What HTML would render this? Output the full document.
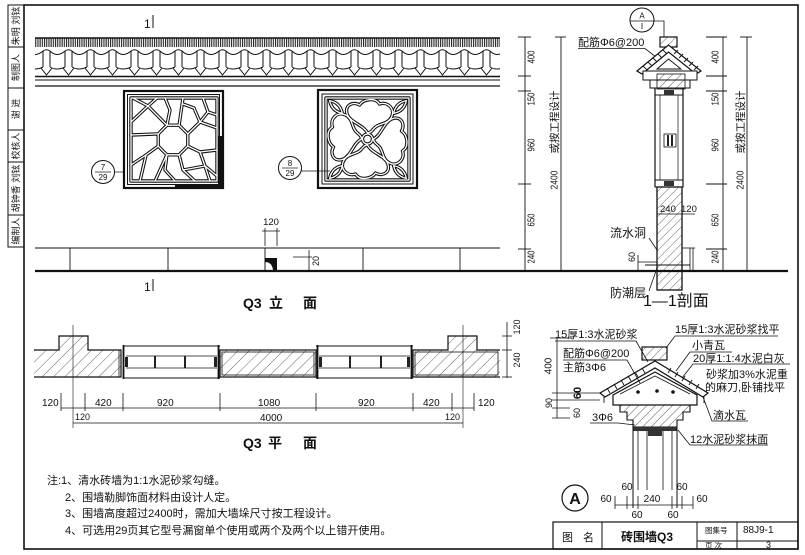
<!DOCTYPE html>
<html><head><meta charset="utf-8">
<style>
html,body{margin:0;padding:0;background:#fff;}
svg{display:block;}
text{font-family:"Liberation Sans","Noto Sans CJK SC",sans-serif;fill:#111;}
</style></head><body>
<svg width="805" height="555" viewBox="0 0 805 555" xmlns="http://www.w3.org/2000/svg" xmlns:xlink="http://www.w3.org/1999/xlink">
<defs>
<pattern id="h" patternUnits="userSpaceOnUse" width="6" height="6" patternTransform="rotate(45)">
<line x1="0" y1="0" x2="0" y2="6" stroke="#222" stroke-width="0.7"/>
</pattern>
<pattern id="hp" patternUnits="userSpaceOnUse" width="8" height="8" patternTransform="rotate(45)">
<line x1="0" y1="0" x2="0" y2="8" stroke="#222" stroke-width="0.7"/>
</pattern>
<pattern id="vs" patternUnits="userSpaceOnUse" width="2.2" height="10">
<rect x="0" y="0" width="1.1" height="10" fill="#222"/>
</pattern>
<pattern id="tl" patternUnits="userSpaceOnUse" x="35" y="47" width="22" height="30">
<g fill="none" stroke="#111" stroke-width="1">
<path d="M8 4 Q11.5 1.5 15 4"/>
<line x1="8" y1="4" x2="8" y2="20"/>
<line x1="15" y1="4" x2="15" y2="20"/>
<path d="M15 4 Q22 11 29 4"/>
<path d="M-7 4 Q0 11 8 4"/>
<path d="M15 20 Q22 24 29 20"/>
<path d="M-7 20 Q0 24 8 20"/>
<path d="M6 21 L11.5 28 L17 21"/>
</g>
</pattern>
<g id="ice" fill="none" stroke-linejoin="round" stroke-linecap="round">
<rect x="131" y="98" width="86" height="83"/>
<polygon points="187.8,146.1 179.1,154.8 166.9,154.8 158.2,146.1 158.2,133.9 166.9,125.2 179.1,125.2 187.8,133.9"/>
<path d="M133 98 L148 106 L166.9 125.2"/>
<path d="M148 106 L157 98"/>
<path d="M148 106 L131 122"/>
<path d="M131 135 L158.2 133.9"/>
<path d="M158.2 146.1 L146 155 L131 165"/>
<path d="M146 155 L140 181"/>
<path d="M166.9 154.8 L155 181"/>
<path d="M166.9 154.8 L165 170 L175 181"/>
<path d="M187.8 146.1 L200 152 L217 150"/>
<path d="M179.1 154.8 L183 170 L195 181"/>
<path d="M183 170 L205 166 L217 176"/>
<path d="M200 152 L205 166 L210 181"/>
<path d="M187.8 133.9 L200 122 L217 128"/>
<path d="M200 122 L208 112 L217 115"/>
<path d="M208 112 L203 98"/>
<path d="M179.1 125.2 L183 98"/>
<path d="M166.9 125.2 L170 110 L165 98"/>
<path d="M200 122 L194 108 L183 104"/>
</g>
<path id="petal" d="M0 -6 C -4 -14 -16 -16 -20 -24 C -24 -34 -14 -38 -8 -34 C -4 -40 8 -42 12 -35 C 20 -38 28 -30 24 -22 C 20 -14 10 -16 6 -10 C 4 -8 3 -6 0 -6 Z"/>
<g id="flower" fill="none" stroke-linejoin="round">
<rect x="326" y="98" width="83" height="82"/>
<circle cx="367.5" cy="139" r="5"/>
<use xlink:href="#petal" transform="translate(367.5,139)"/>
<use xlink:href="#petal" transform="translate(367.5,139) rotate(90)"/>
<use xlink:href="#petal" transform="translate(367.5,139) rotate(180)"/>
<use xlink:href="#petal" transform="translate(367.5,139) rotate(270)"/>
<path d="M-9 0 Q0 -6 9 0 Q0 6 -9 0 Z" transform="translate(336,107) rotate(45)"/>
<path d="M-9 0 Q0 -6 9 0 Q0 6 -9 0 Z" transform="translate(400,107) rotate(-45)"/>
<path d="M-9 0 Q0 -6 9 0 Q0 6 -9 0 Z" transform="translate(336,172) rotate(-45)"/>
<path d="M-9 0 Q0 -6 9 0 Q0 6 -9 0 Z" transform="translate(400,172) rotate(45)"/>
</g>
</defs>

<!-- frame -->
<rect x="24" y="5" width="774" height="544" fill="none" stroke="#111" stroke-width="1.6"/>
<!-- left strip -->
<g stroke="#111" stroke-width="1" fill="none">
<rect x="8" y="5" width="16" height="242"/>
<line x1="8" y1="47" x2="24" y2="47"/><line x1="8" y1="88" x2="24" y2="88"/>
<line x1="8" y1="130" x2="24" y2="130"/><line x1="8" y1="162" x2="24" y2="162"/>
<line x1="8" y1="215" x2="24" y2="215"/>
</g>
<g font-size="9" text-anchor="middle" dominant-baseline="central">
<text transform="translate(16,26) rotate(-90)">朱明 刘铉</text>
<text transform="translate(16,67.5) rotate(-90)">制图人</text>
<text transform="translate(16,109) rotate(-90)">谢  进</text>
<text transform="translate(16,146) rotate(-90)">校核人</text>
<text transform="translate(16,188.5) rotate(-90)">胡钟香 刘铉</text>
<text transform="translate(16,231) rotate(-90)">编制人</text>
</g>

<!-- ELEVATION -->
<text x="144" y="28" font-size="12">1</text>
<line x1="153" y1="15" x2="153" y2="28" stroke="#111" stroke-width="1"/>
<rect x="35" y="38" width="465" height="9" fill="url(#vs)"/>
<line x1="35" y1="38" x2="500" y2="38" stroke="#111" stroke-width="1.5"/>
<rect x="35" y="47" width="465" height="30" fill="url(#tl)"/>
<line x1="35" y1="76.5" x2="500" y2="76.5" stroke="#111" stroke-width="1.6"/>
<line x1="35" y1="80" x2="500" y2="80" stroke="#111" stroke-width="1"/>
<line x1="35" y1="86" x2="500" y2="86" stroke="#111" stroke-width="1.2"/>

<!-- window 1 -->
<rect x="124" y="91" width="99" height="97" fill="none" stroke="#111" stroke-width="2.2"/>
<rect x="127.5" y="94.5" width="92" height="90" fill="none" stroke="#111" stroke-width="1"/>
<use xlink:href="#ice" stroke="#111" stroke-width="3.4"/>
<use xlink:href="#ice" stroke="#fff" stroke-width="1.3"/>
<rect x="218" y="136" width="4" height="50" fill="#111"/>
<rect x="175" y="184" width="48" height="3.5" fill="#111"/>
<!-- ref 7/29 -->
<circle cx="103" cy="172" r="11.5" fill="#fff" stroke="#111" stroke-width="1"/>
<line x1="95" y1="172" x2="111" y2="172" stroke="#111" stroke-width="0.7"/>
<text x="103" y="170" font-size="8" text-anchor="middle">7</text>
<text x="103" y="180" font-size="8" text-anchor="middle">29</text>
<line x1="114.5" y1="172" x2="124" y2="172" stroke="#111" stroke-width="0.7"/>

<!-- window 2 -->
<rect x="318" y="90" width="99" height="98" fill="none" stroke="#111" stroke-width="2.2"/>
<rect x="322" y="94" width="91" height="90" fill="none" stroke="#111" stroke-width="1"/>
<use xlink:href="#flower" stroke="#111" stroke-width="3.4"/>
<use xlink:href="#flower" stroke="#fff" stroke-width="1.3"/>
<circle cx="290" cy="168" r="11.5" fill="#fff" stroke="#111" stroke-width="1"/>
<line x1="282" y1="168" x2="298" y2="168" stroke="#111" stroke-width="0.7"/>
<text x="290" y="166" font-size="8" text-anchor="middle">8</text>
<text x="290" y="176" font-size="8" text-anchor="middle">29</text>
<line x1="301.5" y1="171" x2="330" y2="171" stroke="#111" stroke-width="0.7"/>

<!-- plinth & ground -->
<line x1="35" y1="248" x2="500" y2="248" stroke="#111" stroke-width="0.9"/>
<g stroke="#111" stroke-width="0.9">
<line x1="70" y1="248" x2="70" y2="271"/><line x1="168" y1="248" x2="168" y2="271"/>
<line x1="265" y1="248" x2="265" y2="271"/><line x1="363" y1="248" x2="363" y2="271"/>
<line x1="460" y1="248" x2="460" y2="271"/>
</g>
<line x1="35" y1="271" x2="788" y2="271" stroke="#111" stroke-width="2.2"/>
<!-- 120 dim -->
<text x="271" y="225" font-size="9.5" text-anchor="middle">120</text>
<g stroke="#111" stroke-width="0.8">
<line x1="265" y1="228" x2="265" y2="246"/><line x1="277" y1="228" x2="277" y2="246"/>
<line x1="262" y1="231" x2="280" y2="231"/>
<line x1="293" y1="257" x2="312" y2="257"/><line x1="309" y1="250" x2="309" y2="272"/>
</g>
<path d="M265 258 L277 258 L277 270 L273 270 Q272 262 265 262 Z" fill="#111"/>
<line x1="265" y1="258" x2="265" y2="270" stroke="#111" stroke-width="0.8"/>
<text transform="translate(316,261) rotate(-90)" font-size="9" text-anchor="middle" dominant-baseline="central">20</text>
<text x="144" y="291" font-size="12">1</text>
<line x1="153" y1="279" x2="153" y2="291" stroke="#111" stroke-width="1"/>
<text x="243" y="308" font-size="14" font-weight="bold">Q3</text>
<text x="269" y="308" font-size="14" font-weight="bold">立</text>
<text x="303" y="308" font-size="14" font-weight="bold">面</text>

<!-- SECTION 1-1 -->
<g stroke="#111" stroke-width="0.9" fill="none">
<line x1="525" y1="37" x2="525" y2="271"/>
<line x1="518" y1="37" x2="531" y2="37"/><line x1="518" y1="76" x2="531" y2="76"/>
<line x1="518" y1="91" x2="531" y2="91"/><line x1="518" y1="184" x2="531" y2="184"/>
<line x1="518" y1="249" x2="531" y2="249"/>
<line x1="561" y1="37" x2="561" y2="271"/>
<line x1="555" y1="37" x2="566" y2="37"/>
<line x1="723" y1="37" x2="723" y2="271"/>
<line x1="706" y1="37" x2="727" y2="37"/><line x1="706" y1="76" x2="727" y2="76"/>
<line x1="706" y1="91" x2="727" y2="91"/><line x1="706" y1="184" x2="727" y2="184"/>
<line x1="706" y1="249" x2="727" y2="249"/>
<line x1="747" y1="37" x2="747" y2="271"/>
<line x1="740" y1="37" x2="752" y2="37"/>
</g>
<g font-size="10" text-anchor="middle" dominant-baseline="central">
<text transform="translate(532,57) rotate(-90)" textLength="13" lengthAdjust="spacingAndGlyphs">400</text>
<text transform="translate(532,99) rotate(-90)" textLength="13" lengthAdjust="spacingAndGlyphs">150</text>
<text transform="translate(532,145) rotate(-90)" textLength="13" lengthAdjust="spacingAndGlyphs">960</text>
<text transform="translate(532,220) rotate(-90)" textLength="13" lengthAdjust="spacingAndGlyphs">650</text>
<text transform="translate(532,257) rotate(-90)" textLength="13" lengthAdjust="spacingAndGlyphs">240</text>
<text transform="translate(555,180) rotate(-90)" textLength="19" lengthAdjust="spacingAndGlyphs">2400</text>
<text transform="translate(555,122) rotate(-90)" font-size="10.5">或按工程设计</text>
<text transform="translate(716,57) rotate(-90)" textLength="13" lengthAdjust="spacingAndGlyphs">400</text>
<text transform="translate(716,99) rotate(-90)" textLength="13" lengthAdjust="spacingAndGlyphs">150</text>
<text transform="translate(716,145) rotate(-90)" textLength="13" lengthAdjust="spacingAndGlyphs">960</text>
<text transform="translate(716,220) rotate(-90)" textLength="13" lengthAdjust="spacingAndGlyphs">650</text>
<text transform="translate(716,257) rotate(-90)" textLength="13" lengthAdjust="spacingAndGlyphs">240</text>
<text transform="translate(741,180) rotate(-90)" textLength="19" lengthAdjust="spacingAndGlyphs">2400</text>
<text transform="translate(741,122) rotate(-90)" font-size="10.5">或按工程设计</text>
</g>
<!-- circle A index -->
<circle cx="642" cy="20" r="12" fill="#fff" stroke="#111" stroke-width="1"/>
<line x1="630" y1="21" x2="654" y2="21" stroke="#111" stroke-width="0.8"/>
<text x="642" y="18.5" font-size="8" text-anchor="middle">A</text>
<line x1="642" y1="23" x2="642" y2="29" stroke="#111" stroke-width="0.8"/>
<polyline points="654,21 664,21 664,37" fill="none" stroke="#111" stroke-width="0.8"/>
<text x="578" y="46" font-size="11">配筋Φ6@200</text>
<polyline points="578,48.5 645,48.5 656,57" fill="none" stroke="#111" stroke-width="0.8"/>
<!-- coping section -->
<rect x="660" y="37" width="17" height="10" fill="url(#h)" stroke="#111" stroke-width="1.2"/>
<path d="M637 71 L668.5 45 L701 71 L696 74 L668.5 52 L642 74 Z" fill="#fff" stroke="#111" stroke-width="1.2"/>
<g stroke="#111" stroke-width="0.9">
<line x1="643" y1="66" x2="647" y2="70"/><line x1="648" y1="62" x2="652" y2="66"/>
<line x1="653" y1="58" x2="657" y2="62"/><line x1="658" y1="54" x2="662" y2="58"/>
<line x1="663" y1="50" x2="667" y2="54"/><line x1="674" y1="54" x2="678" y2="50"/>
<line x1="679" y1="58" x2="683" y2="54"/><line x1="684" y1="62" x2="688" y2="58"/>
<line x1="689" y1="66" x2="693" y2="62"/><line x1="694" y1="70" x2="698" y2="66"/>
</g>
<rect x="643" y="71" width="54" height="9" fill="#fff" stroke="#111" stroke-width="1"/>
<rect x="650" y="80" width="40" height="8" fill="#fff" stroke="#111" stroke-width="1"/>
<rect x="657" y="74" width="28" height="15" fill="url(#h)" stroke="#111" stroke-width="0.8"/>
<path d="M657 69 L668.5 59 L681 69 Z" fill="#fff" stroke="#111" stroke-width="0.9"/>
<g stroke="#111" fill="none">
<line x1="655" y1="88" x2="655" y2="187" stroke-width="1.2"/>
<line x1="683" y1="88" x2="683" y2="187" stroke-width="1.2"/>
<line x1="660" y1="95" x2="660" y2="180" stroke-width="0.7"/>
<line x1="678" y1="95" x2="678" y2="180" stroke-width="0.7"/>
<rect x="655" y="88" width="28" height="7" stroke-width="1"/>
<rect x="655" y="180" width="28" height="7" stroke-width="1"/>
<rect x="664" y="134" width="12" height="13" stroke-width="0.8"/>
</g>
<rect x="664" y="90" width="10" height="5" fill="#333"/>
<rect x="664" y="181" width="10" height="5" fill="#333"/>
<rect x="667" y="135" width="2" height="11" fill="#222"/>
<rect x="671" y="135" width="2" height="11" fill="#222"/>
<rect x="657" y="187" width="25" height="103" fill="url(#h)" stroke="#111" stroke-width="1.3"/>
<line x1="645" y1="265" x2="690" y2="265" stroke="#111" stroke-width="0.9"/>
<g stroke="#111" stroke-width="0.8">
<line x1="657" y1="214" x2="695" y2="214"/>
<line x1="690" y1="248" x2="690" y2="271"/><line x1="693" y1="248" x2="693" y2="271"/>
<line x1="682" y1="248" x2="695" y2="248"/>
<line x1="638" y1="262" x2="657" y2="262"/><line x1="638" y1="255" x2="638" y2="271"/>
<line x1="649" y1="238" x2="657" y2="250"/>
<line x1="649" y1="291" x2="657" y2="268"/>
</g>
<text x="660" y="212" font-size="9.5">240</text>
<text x="681" y="212" font-size="9.5">120</text>
<text x="610" y="237" font-size="12">流水洞</text>
<text transform="translate(632,257) rotate(-90)" font-size="9" text-anchor="middle" dominant-baseline="central">60</text>
<text x="610" y="297" font-size="12">防潮层</text>
<text x="643" y="306" font-size="16">1—1剖面</text>

<!-- PLAN -->
<g stroke="#111" stroke-width="1.2">
<path d="M34 350 L59 350 L59 336 L88 336 L88 350 L121 350 L121 377 L34 377" fill="url(#hp)"/>
<rect x="220" y="350" width="96" height="27" fill="url(#hp)"/>
<path d="M500 350 L477 350 L477 336 L448 336 L448 350 L413 350 L413 377 L500 377" fill="url(#hp)"/>
</g>
<g stroke="#111" stroke-width="0.8" fill="none">
<rect x="222" y="352" width="92" height="23"/>
<rect x="415" y="352" width="83" height="23"/>
<line x1="119" y1="350" x2="119" y2="377"/>
</g>
<!-- plan windows -->
<g stroke="#111" fill="none">
<line x1="123" y1="346" x2="220" y2="346" stroke-width="1"/>
<line x1="123" y1="378" x2="220" y2="378" stroke-width="1"/>
<line x1="126" y1="356" x2="217" y2="356" stroke-width="0.8"/>
<line x1="126" y1="368" x2="217" y2="368" stroke-width="0.8"/>
<line x1="123.5" y1="345" x2="123.5" y2="379" stroke-width="1.8"/>
<line x1="218.5" y1="345" x2="218.5" y2="379" stroke-width="1.8"/>
<line x1="316" y1="346" x2="413" y2="346" stroke-width="1"/>
<line x1="316" y1="378" x2="413" y2="378" stroke-width="1"/>
<line x1="319" y1="356" x2="410" y2="356" stroke-width="0.8"/>
<line x1="319" y1="368" x2="410" y2="368" stroke-width="0.8"/>
<line x1="317.5" y1="345" x2="317.5" y2="379" stroke-width="1.8"/>
<line x1="411.5" y1="345" x2="411.5" y2="379" stroke-width="1.8"/>
</g>
<g fill="#222">
<rect x="125" y="357" width="3" height="10"/><rect x="214" y="357" width="3" height="10"/>
<rect x="154" y="356" width="2" height="12"/><rect x="184" y="356" width="2" height="12"/>
<rect x="319" y="357" width="3" height="10"/><rect x="407" y="357" width="3" height="10"/>
<rect x="349" y="356" width="2" height="12"/><rect x="380" y="356" width="2" height="12"/>
</g>
<!-- plan dims -->
<g stroke="#111" stroke-width="0.8">
<line x1="73" y1="325" x2="73" y2="428" stroke-width="0.6"/>
<line x1="463" y1="325" x2="463" y2="428" stroke-width="0.6"/>
<line x1="61" y1="408" x2="474" y2="408"/>
<line x1="61" y1="393" x2="61" y2="411"/><line x1="85" y1="393" x2="85" y2="411"/>
<line x1="123" y1="393" x2="123" y2="411"/><line x1="220" y1="393" x2="220" y2="411"/>
<line x1="316" y1="393" x2="316" y2="411"/><line x1="413" y1="393" x2="413" y2="411"/>
<line x1="452" y1="393" x2="452" y2="411"/><line x1="474" y1="393" x2="474" y2="411"/>
<line x1="73" y1="423" x2="463" y2="423"/>
<line x1="507" y1="322" x2="507" y2="378"/>
<line x1="502" y1="336" x2="512" y2="336"/><line x1="502" y1="350" x2="512" y2="350"/>
<line x1="502" y1="377" x2="512" y2="377"/>
</g>
<g font-size="10">
<text x="42" y="406">120</text>
<text x="95" y="406">420</text>
<text x="157" y="406">920</text>
<text x="258" y="406">1080</text>
<text x="358" y="406">920</text>
<text x="423" y="406">420</text>
<text x="478" y="406">120</text>
<text x="75" y="420" font-size="9">120</text>
<text x="260" y="421">4000</text>
<text x="445" y="420" font-size="9">120</text>
</g>
<text transform="translate(517,327) rotate(-90)" font-size="9" text-anchor="middle" dominant-baseline="central">120</text>
<text transform="translate(517,360) rotate(-90)" font-size="9" text-anchor="middle" dominant-baseline="central">240</text>
<text x="243" y="448" font-size="14" font-weight="bold">Q3</text>
<text x="268" y="448" font-size="14" font-weight="bold">平</text>
<text x="303" y="448" font-size="14" font-weight="bold">面</text>

<!-- DETAIL A -->
<rect x="642" y="347" width="25" height="13" fill="url(#h)" stroke="#111" stroke-width="1.2"/>
<path d="M600 393 L655 361 L708 393 L703 397 L655 368 L605 397 Z" fill="#fff" stroke="#111" stroke-width="1.2"/>
<g stroke="#111" stroke-width="0.9">
<line x1="607" y1="388" x2="610" y2="393"/><line x1="614" y1="384" x2="617" y2="389"/>
<line x1="621" y1="380" x2="624" y2="385"/><line x1="628" y1="376" x2="631" y2="381"/>
<line x1="635" y1="372" x2="638" y2="377"/><line x1="642" y1="368" x2="645" y2="373"/>
<line x1="668" y1="373" x2="671" y2="368"/><line x1="675" y1="377" x2="678" y2="372"/>
<line x1="682" y1="381" x2="685" y2="376"/><line x1="689" y1="385" x2="692" y2="380"/>
<line x1="696" y1="389" x2="699" y2="384"/>
<line x1="604" y1="397" x2="604" y2="403"/><line x1="704" y1="397" x2="704" y2="403"/>
</g>
<path d="M613 405 L613 395 L655 372 L697 395 L697 405 Z" fill="#fff" stroke="#111" stroke-width="1.2"/>
<path d="M620 394 L655 376 L690 394" fill="none" stroke="#111" stroke-width="0.8"/>
<circle cx="638" cy="392" r="1.8" fill="#111"/>
<circle cx="657" cy="391" r="1.8" fill="#111"/>
<circle cx="673" cy="392" r="1.8" fill="#111"/>
<path d="M620 405 L690 405 L690 412 L683 412 L683 420 L677 420 L677 427 L633 427 L633 420 L627 420 L627 412 L620 412 Z" fill="url(#h)" stroke="#111" stroke-width="1.1"/>
<rect x="633" y="427" width="44" height="4" fill="#333"/>
<g stroke="#111" fill="none">
<line x1="633" y1="427" x2="633" y2="508" stroke-width="1"/>
<line x1="677" y1="427" x2="677" y2="508" stroke-width="1"/>
<line x1="638" y1="431" x2="638" y2="490" stroke-width="0.8"/>
<line x1="647" y1="431" x2="647" y2="490" stroke-width="0.8"/>
<line x1="663" y1="431" x2="663" y2="490" stroke-width="0.8"/>
<line x1="672" y1="431" x2="672" y2="490" stroke-width="0.8"/>
</g>
<rect x="648" y="430" width="14" height="6" fill="#333"/>
<g stroke="#111" stroke-width="0.8" fill="none">
<line x1="615" y1="505" x2="693" y2="505"/>
<line x1="615" y1="496" x2="615" y2="509"/><line x1="627" y1="496" x2="627" y2="509"/>
<line x1="638" y1="496" x2="638" y2="509"/><line x1="672" y1="496" x2="672" y2="509"/>
<line x1="682" y1="496" x2="682" y2="509"/><line x1="693" y1="496" x2="693" y2="509"/>
<line x1="557" y1="338" x2="557" y2="418"/>
<line x1="550" y1="338" x2="572" y2="338"/><line x1="552" y1="393" x2="600" y2="393"/>
<line x1="552" y1="400" x2="600" y2="400"/><line x1="552" y1="408" x2="570" y2="408"/>
<line x1="552" y1="418" x2="570" y2="418"/>
<polyline points="555,341 636,341 648,362"/>
<polyline points="778,336 675,336 666,348"/>
<polyline points="732,352 690,352 676,371"/>
<polyline points="790,364 693,364 682,378"/>
<polyline points="563,360 627,360 640,383"/>
<polyline points="748,421 712,421 703,397"/>
<polyline points="768,445 690,445 678,430"/>
<polyline points="590,423 618,423 635,425"/>
</g>
<g font-size="11">
<text x="555" y="338">15厚1:3水泥砂浆</text>
<text x="675" y="333">15厚1:3水泥砂浆找平</text>
<text x="692" y="349">小青瓦</text>
<text x="693" y="362">20厚1:1:4水泥白灰</text>
<text x="706" y="378">砂浆加3%水泥重</text>
<text x="705" y="391">的麻刀,卧铺找平</text>
<text x="563" y="357">配筋Φ6@200</text>
<text x="563" y="371">主筋3Φ6</text>
<text x="713" y="419">滴水瓦</text>
<text x="690" y="443">12水泥砂浆抹面</text>
<text x="592" y="421">3Φ6</text>
</g>
<g font-size="10" text-anchor="middle" dominant-baseline="central">
<text transform="translate(549,366) rotate(-90)">400</text>
<text transform="translate(578,393) rotate(-90)" font-weight="bold" font-size="11">60</text>
<text transform="translate(549,403) rotate(-90)" font-size="9">90</text>
<text transform="translate(577,413) rotate(-90)" font-size="9">60</text>
</g>
<g font-size="10" text-anchor="middle">
<text x="606" y="502">60</text>
<text x="652" y="502">240</text>
<text x="702" y="502">60</text>
<text x="627" y="490">60</text>
<text x="682" y="490">60</text>
<text x="637" y="518">60</text>
<text x="673" y="518">60</text>
</g>
<circle cx="575" cy="498" r="13" fill="#fff" stroke="#111" stroke-width="1.2"/>
<text x="575" y="504" font-size="16" font-weight="bold" text-anchor="middle">A</text>

<!-- NOTES -->
<g font-size="11">
<text x="47" y="484">注:1、清水砖墙为1:1水泥砂浆勾缝。</text>
<text x="65" y="501">2、围墙勒脚饰面材料由设计人定。</text>
<text x="65" y="517">3、围墙高度超过2400时，需加大墙垛尺寸按工程设计。</text>
<text x="65" y="534">4、可选用29页其它型号漏窗单个使用或两个及两个以上错开使用。</text>
</g>

<!-- TITLE BLOCK -->
<g stroke="#111" fill="none">
<rect x="553" y="522" width="245" height="27" stroke-width="1.2"/>
<line x1="602" y1="522" x2="602" y2="549" stroke-width="1"/>
<line x1="697" y1="522" x2="697" y2="549" stroke-width="1"/>
<line x1="737" y1="522" x2="737" y2="549" stroke-width="1"/>
<line x1="697" y1="541" x2="798" y2="541" stroke-width="1"/>
</g>
<text x="562" y="541" font-size="11">图</text>
<text x="583" y="541" font-size="11">名</text>
<text x="621" y="541" font-size="12" font-weight="bold">砖围墙Q3</text>
<text x="705" y="533" font-size="7.5">图集号</text>
<text x="743" y="533" font-size="10">88J9-1</text>
<text x="705" y="548" font-size="7.5">页 次</text>
<text x="766" y="548" font-size="9">3</text>
</svg>
</body></html>
